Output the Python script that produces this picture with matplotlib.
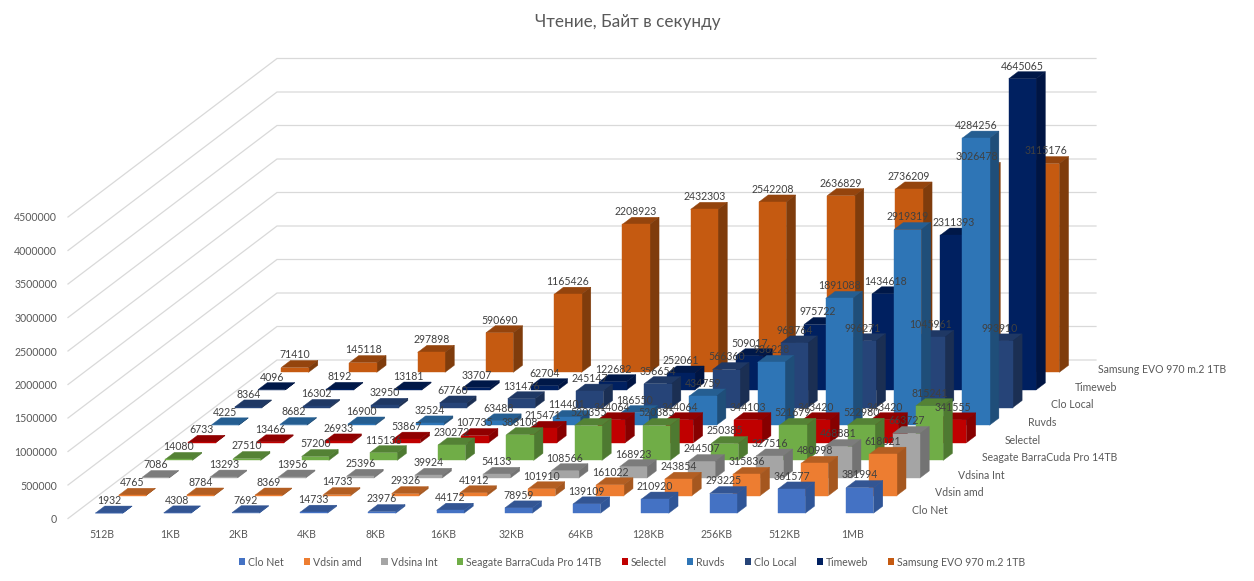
import matplotlib
matplotlib.use("Agg")
import matplotlib.pyplot as plt
from matplotlib.patches import Patch

categories = ["512B", "1KB", "2KB", "4KB", "8KB", "16KB", "32KB", "64KB", "128KB", "256KB", "512KB", "1MB"]
clo_net = [1932, 4308, 7692, 14733, 23976, 44172, 78959, 139109, 210920, 293225, 361577, 381994]
vdsin_amd = [4765, 8784, 8369, 14733, 29326, 41912, 101910, 161022, 243854, 315836, 480998, 618021]
vdsina_int = [7086, 13293, 13956, 25396, 39924, 54133, 108566, 168923, 244507, 327516, 468881, 663727]
seagate = [14080, 27510, 57200, 115136, 230272, 383108, 520355, 520385, 250385, 521679, 522980, 815241]
selectel = [6733, 13466, 26933, 53867, 107735, 215471, 344064, 344064, 344103, 343420, 343420, 341555]
ruvds = [4225, 8682, 16900, 32524, 63488, 114401, 186550, 434759, 936228, 1891088, 2919319, 4284256]
clo_local = [8364, 16302, 32950, 67760, 131476, 245147, 356654, 566360, 963764, 996271, 1045961, 993910]
timeweb = [4096, 8192, 13181, 33707, 62704, 122682, 252061, 509017, 975722, 1434618, 2311393, 4645065]
samsung = [71410, 145118, 297898, 590690, 1165426, 2208923, 2432303, 2542208, 2636829, 2736209, 3026478, 3115176]
series_names = ["Clo Net", "Vdsin amd", "Vdsina Int", "Seagate BarraCuda Pro 14TB", "Selectel",
                "Ruvds", "Clo Local", "Timeweb", "Samsung EVO 970 m.2 1TB"]
series_values = [clo_net, vdsin_amd, vdsina_int, seagate, selectel, ruvds, clo_local, timeweb, samsung]
y_ticks = [0, 500000, 1000000, 1500000, 2000000, 2500000, 3000000, 3500000, 4000000, 4500000]
title = "Чтение, Байт в секунду"

front_colors = ["#4472C4", "#ED7D31", "#A5A5A5", "#70AD47", "#C00000", "#2E75B6", "#264478", "#002060", "#C55A11"]
top_colors = ["#335593", "#B35E22", "#7C7C7C", "#548235", "#900000", "#255E91", "#1F3864", "#001848", "#94440D"]
side_colors = ["#2F5597", "#A5571F", "#737373", "#4E7A31", "#860000", "#1F4E79", "#1B2F53", "#001543", "#7F3C0C"]

W, H = 1254, 581
X0, Y0 = 68.0, 518.5         # pixel of the front-left floor corner
CAT_PX = 68.25               # pixels per category
VAL_PX = 33.5 / 500000       # pixels per unit of value
DX = (209 / 9) / CAT_PX      # depth step in category units
DY = (158.5 / 9) / VAL_PX    # depth step in value units
N_S = len(series_names)
N_C = len(categories)
BAR = 0.4

plt.rcParams["font.family"] = ["Lato", "Noto Sans", "DejaVu Sans"]
fig = plt.figure(figsize=(W / 100, H / 100), dpi=100)
ax = fig.add_axes([0, 0, 1, 1])
ax.set_xlim(-X0 / CAT_PX, (W - X0) / CAT_PX)
ax.set_ylim((Y0 - H) / VAL_PX, Y0 / VAL_PX)
ax.axis("off")

FS = 7.6
GRID = "#D9D9D9"
TXT = "#595959"
LBL = "#404040"
px_y = 1 / VAL_PX
px_x = 1 / CAT_PX

# walls
for v in y_ticks:
    ax.plot([0, N_S * DX, N_C + N_S * DX], [v, v + N_S * DY, v + N_S * DY],
            color=GRID, lw=0.9, zorder=1, solid_joinstyle="miter")
    ax.text(-11 * px_x, v - 1 * px_y, f"{v}", ha="right", va="center", fontsize=FS, color=TXT, zorder=2)

for i, c in enumerate(categories):
    ax.text(i + 0.5, -15.5 * px_y, c, ha="center", va="center", fontsize=FS, color=TXT)

for d, name in enumerate(series_names):
    ax.text(N_C + d * DX + 25 * px_x, d * DY + 8 * px_y, name,
            ha="left", va="center", fontsize=FS, color=TXT)

# bars, back to front
for d in range(N_S - 1, -1, -1):
    z = 10 + (N_S - d)
    vals = series_values[d]
    xs = [i + 0.3 + (d + 0.3) * DX for i in range(N_C)]
    base = (d + 0.3) * DY
    ax.bar(xs, vals, width=BAR, bottom=base, align="edge", color=front_colors[d],
           edgecolor=front_colors[d], linewidth=0.3, zorder=z + 0.1)
    ddx, ddy = 0.4 * DX, 0.4 * DY
    for x, v in zip(xs, vals):
        top = base + v
        ax.fill([x, x + BAR, x + BAR + ddx, x + ddx], [top, top, top + ddy, top + ddy],
                color=top_colors[d], lw=0.3, zorder=z)
        ax.fill([x + BAR, x + BAR + ddx, x + BAR + ddx, x + BAR],
                [base, base + ddy, top + ddy, top],
                color=side_colors[d], lw=0.3, zorder=z)

# data labels on top of everything
for d in range(N_S):
    for i, v in enumerate(series_values[d]):
        x = i + 0.5 + (d + 0.3) * DX
        y = (d + 0.7) * DY + v + 5.6 * px_y
        ax.text(x, y, f"{v}", ha="center", va="center", fontsize=FS, color=LBL, zorder=100)

ax.text((0.5 * W + 1 - X0) * px_x, (Y0 - 22.5) * px_y, title, ha="center", va="center",
        fontsize=12.3, color=TXT)

handles = [Patch(facecolor=c, edgecolor="none", label=n) for c, n in zip(front_colors, series_names)]
leg = ax.legend(handles=handles, loc="center", bbox_to_anchor=(632 / W, 1 - 562 / H),
                bbox_transform=fig.transFigure, ncol=N_S, frameon=False, fontsize=FS,
                handlelength=0.58, handleheight=0.58, handletextpad=0.29, columnspacing=1.9,
                labelcolor=TXT, borderpad=0, borderaxespad=0)

fig.savefig("out.png", dpi=100)
